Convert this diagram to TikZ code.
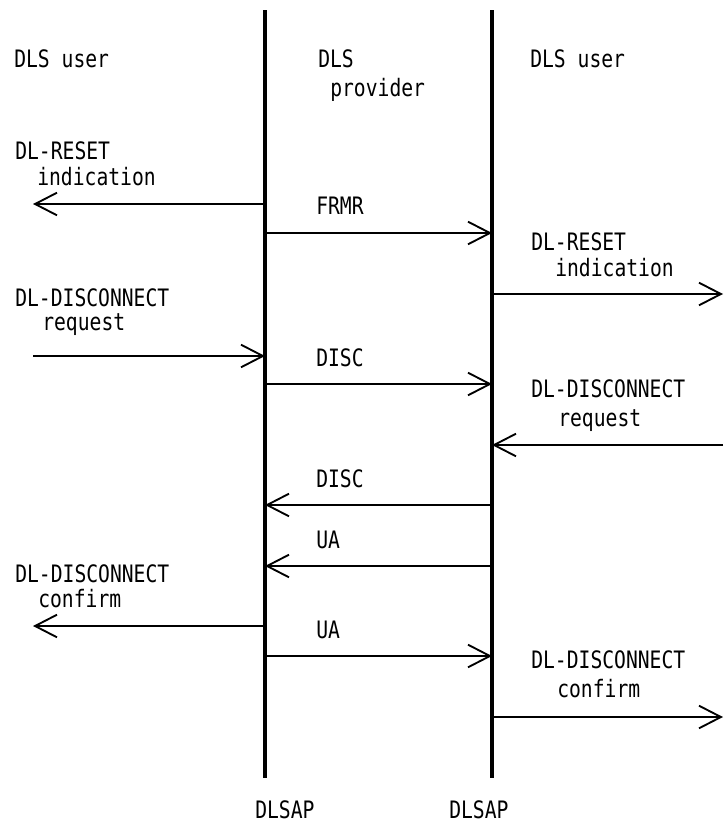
\documentclass[tikz,border=0pt]{standalone}
\usepackage{fontspec}
\setmonofont[FakeStretch=0.82]{DejaVu Sans Mono}
\usetikzlibrary{arrows.meta}

\tikzset{
  lifeline/.style={line width=3pt},
  msg/.style={line width=1.5pt,-{Straight Barb[length=16.5pt,width=17pt,line width=1.4pt]}},
  lbl/.style={anchor=base west,inner sep=0pt,font=\ttfamily\fontsize{18}{21}\selectfont},
}

\begin{document}
\begin{tikzpicture}[x=0.75pt,y=-0.75pt]
\useasboundingbox (0,0) rectangle (724,828);
% the two service access points
\coordinate (Atop) at (265,10);
\coordinate (Abot) at (265,778);
\coordinate (Btop) at (492,10);
\coordinate (Bbot) at (492,778);
\draw[lifeline] (Atop) -- (Abot);
\draw[lifeline] (Btop) -- (Bbot);
\node[lbl] (sapA) at (255,818) {DLSAP};
\node[lbl] (sapB) at (449,818) {DLSAP};

% headings
\node[lbl] (userL) at (14,67) {DLS user};
\node[lbl] (prov) at (318,67) {DLS};
\node[lbl] (prov2) at (330,96) {provider};
\node[lbl] (userR) at (530,67) {DLS user};

% reset
\node[lbl] (rstL) at (15,159) {DL-RESET};
\node[lbl] (rstL2) at (37,185) {indication};
\coordinate (a1) at (265,204); \coordinate (l1) at (33,204);
\draw[msg] (a1) -- (l1);
\node[lbl] (frmr) at (316,214) {FRMR};
\coordinate (a2) at (265,233); \coordinate (b2) at (492,233);
\draw[msg] (a2) -- (b2);
\node[lbl] (rstR) at (531,250) {DL-RESET};
\node[lbl] (rstR2) at (555,276) {indication};
\coordinate (b3) at (492,294); \coordinate (r3) at (723,294);
\draw[msg] (b3) -- (r3);

% disconnect, both sides
\node[lbl] (dscL) at (15,306) {DL-DISCONNECT};
\node[lbl] (dscL2) at (42,330) {request};
\coordinate (l4) at (33,356); \coordinate (a4) at (265,356);
\draw[msg] (l4) -- (a4);
\node[lbl] (disc1) at (316,366) {DISC};
\coordinate (a5) at (265,384); \coordinate (b5) at (492,384);
\draw[msg] (a5) -- (b5);
\node[lbl] (dscR) at (531,397) {DL-DISCONNECT};
\node[lbl] (dscR2) at (558,426) {request};
\coordinate (r6) at (723,445); \coordinate (b6) at (492,445);
\draw[msg] (r6) -- (b6);
\node[lbl] (disc2) at (316,487) {DISC};
\coordinate (b7) at (492,505); \coordinate (a7) at (265,505);
\draw[msg] (b7) -- (a7);
\node[lbl] (ua1) at (316,548) {UA};
\coordinate (b8) at (492,566); \coordinate (a8) at (265,566);
\draw[msg] (b8) -- (a8);

% confirms
\node[lbl] (cnfL) at (15,582) {DL-DISCONNECT};
\node[lbl] (cnfL2) at (38,607) {confirm};
\coordinate (a9) at (265,626); \coordinate (l9) at (33,626);
\draw[msg] (a9) -- (l9);
\node[lbl] (ua2) at (316,638) {UA};
\coordinate (a10) at (265,656); \coordinate (b10) at (492,656);
\draw[msg] (a10) -- (b10);
\node[lbl] (cnfR) at (531,668) {DL-DISCONNECT};
\node[lbl] (cnfR2) at (557,697) {confirm};
\coordinate (b11) at (492,717); \coordinate (r11) at (723,717);
\draw[msg] (b11) -- (r11);
\end{tikzpicture}
\end{document}
